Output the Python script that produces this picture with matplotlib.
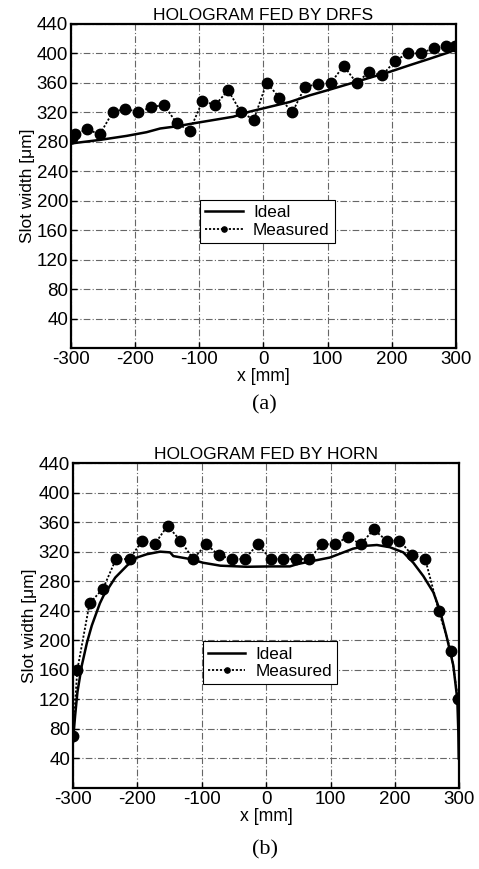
import matplotlib
matplotlib.use("Agg")
import matplotlib.pyplot as plt

plt.rcParams['font.family'] = ['Liberation Sans', 'DejaVu Sans']
plt.rcParams['axes.unicode_minus'] = False

# ---------------- data (a) ----------------
a_ideal_x = [-300, -297, -255, -213, -182, -161, -135, -109, -78, -47, -21, 10, 41, 72, 104, 135, 166, 197, 228, 260, 291, 298]
a_ideal_y = [277, 278, 282.5, 288, 293, 298, 301, 305, 309.5, 314, 321, 327.5, 334, 343, 351, 359, 367, 375, 384, 393, 402, 405]
a_meas_x = [-298, -294, -275, -255, -235, -215, -195, -175, -155, -135, -115, -95, -75, -55, -35, -15,
            5, 25, 45, 65, 85, 105, 125, 145, 165, 185, 205, 225, 245, 265, 285, 298]
a_meas_y = [285, 290, 297, 290, 320, 325, 320, 327, 330, 305, 295, 335, 330, 350, 320, 310,
            360, 340, 320, 355, 358, 360, 383, 360, 375, 370, 390, 400, 400, 407, 410, 410]

# ---------------- data (b) ----------------
b_ideal_x = [-300, -299, -296.4, -292.8, -286, -278, -270.5, -258, -252.5, -234, -216, -200.7, -185, -164.5, -149, -144,
             -118, -98, -71, -30, 7, 37, 48, 73, 99, 120, 135, 156, 172, 192, 213, 228.5, 244, 259.6, 270, 280,
             290.6, 296.8, 298.4, 299]
b_ideal_y = [60, 71, 98, 130, 166, 197, 220, 250, 260, 285, 301, 312, 316.5, 320, 319, 314,
             310, 305, 301, 299.5, 300, 300, 303, 307.5, 312, 319, 324, 328, 329, 326, 319, 305, 287, 265, 240, 206,
             166, 120, 76, 40]
b_meas_x = [-300, -293, -274, -253, -233, -212, -192, -173, -153, -133, -113, -93, -73, -53, -33, -13,
            7, 27, 47, 67, 87, 107, 127, 147, 167, 187, 207, 227, 247, 268, 287, 298]
b_meas_y = [70, 160, 250, 270, 310, 310, 335, 330, 355, 335, 310, 330, 315, 310, 310, 330,
            310, 310, 310, 310, 330, 330, 340, 330, 350, 335, 335, 315, 310, 240, 185, 120]

x_ticks = [-300, -200, -100, 0, 100, 200, 300]
y_ticks = [40, 80, 120, 160, 200, 240, 280, 320, 360, 400, 440]

titles = ["HOLOGRAM FED BY DRFS", "HOLOGRAM FED BY HORN"]
captions = ["(a)", "(b)"]

fig = plt.figure(figsize=(4.79, 8.69), dpi=100)
ax_a = fig.add_axes([0.148, 0.5995, 0.804, 0.373])
ax_b = fig.add_axes([0.152, 0.0932, 0.807, 0.374])

panels = [
    (ax_a, a_ideal_x, a_ideal_y, a_meas_x, a_meas_y, (0.51, 0.39)),
    (ax_b, b_ideal_x, b_ideal_y, b_meas_x, b_meas_y, (0.51, 0.385)),
]

for i, (ax, ix, iy, mx, my, lc) in enumerate(panels):
    ax.plot(ix, iy, color='black', lw=1.8, label='Ideal', zorder=3)
    ax.plot(mx, my, color='black', lw=1.3, ls=(0, (1.2, 1.0)), marker='o', ms=7.5,
            label='Measured', zorder=4)
    ax.set_xlim(-300, 300)
    ax.set_ylim(0, 440)
    ax.set_xticks(x_ticks)
    ax.set_yticks(y_ticks)
    ax.tick_params(direction='in', length=4, width=1, labelsize=13.5, pad=2)
    ax.grid(True, color='#666666', ls='-.', lw=0.8, dashes=(6, 2, 1, 2))
    for s in ax.spines.values():
        s.set_linewidth(1.6)
    ax.set_title(titles[i], fontsize=12.5, pad=3)
    ax.set_xlabel('x [mm]', fontsize=12.7, labelpad=0)
    ax.set_ylabel('Slot width [μm]', fontsize=12.5, labelpad=1)
    leg = ax.legend(loc='center', bbox_to_anchor=lc, fontsize=12.3, frameon=True, fancybox=False,
                    edgecolor='black', framealpha=1, handlelength=2.2, handletextpad=0.6,
                    borderpad=0.3, labelspacing=0.15, markerscale=0.5)
    leg.get_frame().set_linewidth(0.8)

fig.text(0.551, 1 - 405 / 869, captions[0], ha='center', va='center', fontsize=16, family='Liberation Serif')
fig.text(0.553, 1 - 850 / 869, captions[1], ha='center', va='center', fontsize=16, family='Liberation Serif')

fig.savefig('out.png', dpi=100)
